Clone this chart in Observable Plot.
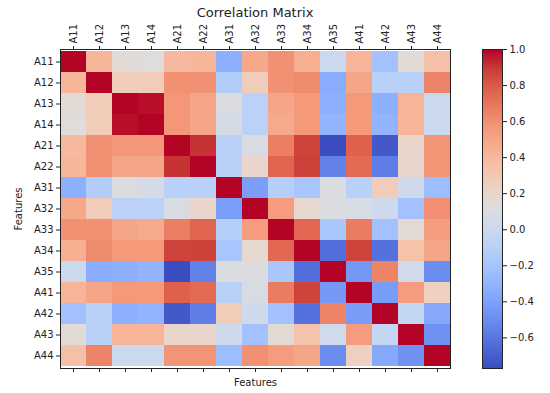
<!DOCTYPE html>
<html><head><meta charset="utf-8">
<script src="https://cdn.jsdelivr.net/npm/d3@7"></script>
<script src="https://cdn.jsdelivr.net/npm/@observablehq/plot@0.6"></script>
<style>
body{margin:0;background:#fff;font-family:"DejaVu Sans",sans-serif;}
#wrap{position:relative;width:550px;height:393px;overflow:hidden;background:#fff}
#title{position:absolute;left:60px;width:390px;top:5px;text-align:center;font-size:13px;color:#222}
#main,#cbar{position:absolute;top:0}
#main{left:0}
#cbar{left:460px}
</style></head><body>
<div id="wrap"><div id="main"></div><div id="cbar"></div><div id="title">Correlation Matrix</div></div>
<script>
const features = ["A11","A12","A13","A14","A21","A22","A31","A32","A33","A34","A35","A41","A42","A43","A44"];
const corr = [
  [ 1.00, 0.42, 0.15, 0.12, 0.40, 0.42,-0.33, 0.49, 0.60, 0.46, 0.00, 0.43,-0.22, 0.15, 0.36],
  [ 0.42, 1.00, 0.28, 0.28, 0.60, 0.60,-0.13, 0.27, 0.60, 0.62,-0.35, 0.50,-0.10,-0.10, 0.65],
  [ 0.15, 0.28, 1.00, 0.98, 0.57, 0.50, 0.10,-0.09, 0.50, 0.56,-0.33, 0.56,-0.33, 0.43, 0.00],
  [ 0.12, 0.28, 0.98, 1.00, 0.57, 0.50, 0.06,-0.09, 0.48, 0.56,-0.30, 0.56,-0.30, 0.43, 0.00],
  [ 0.40, 0.60, 0.57, 0.57, 1.00, 0.91,-0.10, 0.08, 0.67, 0.87,-0.77, 0.78,-0.72, 0.20, 0.58],
  [ 0.42, 0.60, 0.50, 0.50, 0.91, 1.00,-0.10, 0.20, 0.76, 0.88,-0.55, 0.74,-0.57, 0.20, 0.58],
  [-0.33,-0.13, 0.10, 0.06,-0.10,-0.10, 1.00,-0.42,-0.12,-0.19, 0.10,-0.10, 0.28, 0.02,-0.25],
  [ 0.49, 0.27,-0.09,-0.09, 0.08, 0.20,-0.42, 1.00, 0.55, 0.18, 0.10, 0.07, 0.02,-0.22, 0.60],
  [ 0.60, 0.60, 0.50, 0.48, 0.67, 0.76,-0.12, 0.55, 1.00, 0.75,-0.18, 0.68,-0.22, 0.16, 0.55],
  [ 0.46, 0.62, 0.56, 0.56, 0.87, 0.88,-0.19, 0.18, 0.75, 1.00,-0.63, 0.87,-0.62, 0.35, 0.50],
  [ 0.00,-0.35,-0.33,-0.30,-0.77,-0.55, 0.10, 0.10,-0.18,-0.63, 1.00,-0.45, 0.65, 0.03,-0.50],
  [ 0.43, 0.50, 0.56, 0.56, 0.78, 0.74,-0.10, 0.07, 0.68, 0.87,-0.45, 1.00,-0.43, 0.55, 0.25],
  [-0.22,-0.10,-0.33,-0.30,-0.72,-0.57, 0.28, 0.02,-0.22,-0.62, 0.65,-0.43, 1.00,-0.05,-0.37],
  [ 0.15,-0.10, 0.43, 0.43, 0.20, 0.20, 0.02,-0.22, 0.16, 0.35, 0.03, 0.55,-0.05, 1.00,-0.48],
  [ 0.36, 0.65, 0.00, 0.00, 0.58, 0.58,-0.25, 0.60, 0.55, 0.50,-0.50, 0.25,-0.37,-0.48, 1.00]
];
const colorbarTicks = [-0.6,-0.4,-0.2,0.0,0.2,0.4,0.6,0.8,1.0];

// matplotlib "coolwarm" colormap stops
const coolwarm = ["#3b4cc0","#4d68d7","#6282ea","#779af7","#8db0fe","#a3c2fe","#b8d0f9","#ccd9ee","#dddddd","#ecd3c5","#f5c4ad","#f7b194","#f49a7b","#ec7f63","#de604d","#cb3e38","#b40426"];

const cells = features.flatMap((r, i) => features.map((c, j) => ({row: r, col: c, value: corr[i][j]})));
const vmin = d3.min(corr.flat()), vmax = d3.max(corr.flat());
const colorScale = {
  type: "linear",
  domain: coolwarm.map((_, k) => vmin + k / (coolwarm.length - 1) * (vmax - vmin)),
  range: coolwarm, interpolate: "rgb", clamp: true
};
const txt = {fontFamily: "DejaVu Sans, sans-serif", fontSize: "10px", color: "#222", background: "transparent"};

const main = Plot.plot({
  width: 550, height: 393,
  marginLeft: 60, marginRight: 100, marginTop: 49, marginBottom: 25,
  style: txt,
  x: {domain: features, padding: 0, axis: null},
  y: {domain: features, padding: 0, axis: null},
  color: colorScale,
  marks: [
    Plot.cell(cells, {x: "col", y: "row", fill: "value", inset: 0}),
    Plot.frame({stroke: "#222"}),
    Plot.axisX({anchor: "top", tickRotate: -90, tickSize: 4, tickPadding: 2, label: null}),
    Plot.axisX({anchor: "bottom", tickFormat: () => "", tickSize: 4, label: "Features", labelAnchor: "center", labelOffset: 17}),
    Plot.axisY({anchor: "left", tickSize: 4, tickPadding: 3, label: "Features", labelAnchor: "center", labelOffset: 46})
  ]
});
document.getElementById("main").appendChild(main);

const cbar = Plot.plot({
  width: 90, height: 393,
  marginLeft: 22, marginRight: 48, marginTop: 49, marginBottom: 25,
  style: txt,
  x: {domain: [0, 1], axis: null},
  y: {domain: [vmin, vmax], axis: null},
  color: colorScale,
  marks: [
    Plot.raster({x1: 0, x2: 1, y1: vmin, y2: vmax, width: 1, height: 320, fill: (x, y) => y, imageRendering: "auto"}),
    Plot.frame({stroke: "#222"}),
    Plot.axisY(colorbarTicks, {anchor: "right", tickSize: 4, tickPadding: 3, tickFormat: d3.format(".1f"), label: null})
  ]
});
document.getElementById("cbar").appendChild(cbar);
</script>
</body></html>
